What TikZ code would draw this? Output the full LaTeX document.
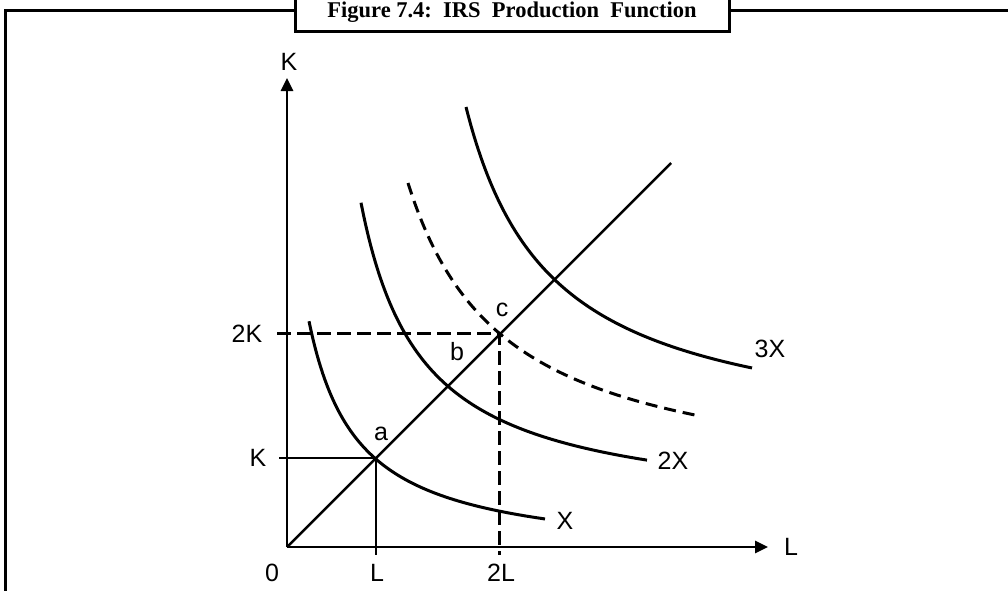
\documentclass[tikz,border=0pt]{standalone}
\usepackage{fontspec}
\setmainfont{Liberation Sans}
\newfontfamily\titlefont{Liberation Serif}
\usetikzlibrary{arrows.meta}
\begin{document}
\begin{tikzpicture}[x=1pt,y=-1pt,
  axis/.style={line width=2.8pt},
  curve/.style={line width=3pt},
  guide/.style={line width=2.5pt},
  dguide/.style={line width=3pt, dash pattern=on 14pt off 6pt},
  dcurve/.style={line width=3pt, dash pattern=on 12pt off 7pt},
  lab/.style={font=\fontsize{25}{25}\selectfont, inner sep=0pt},
  arr/.style={-{Triangle[length=13pt,width=12pt]}}]
\useasboundingbox (0,0) rectangle (1008,590);
\fill[white] (0,0) rectangle (1008,590);
% frame and title
\draw[line width=3pt] (5,592) -- (5,10) -- (1010,10);
\draw[line width=3pt, fill=white] (295,-5) rectangle (729,31);
\node[font=\titlefont\bfseries\fontsize{22.5}{22.5}\selectfont, anchor=base, inner sep=0pt] (title) at (512,17)
  {Figure 7.4:\hspace{0.5em}IRS\hspace{0.5em}Production\hspace{0.5em}Function};
% key points
\coordinate (O) at (287,547);
\coordinate (Ytip) at (287,78);
\coordinate (Xtip) at (768,547);
\coordinate (A) at (376,458);
\coordinate (C) at (499,333);
\coordinate (Dtop) at (671,163);
\coordinate (Ktick) at (279,458);
\coordinate (KKtick) at (277,333);
\coordinate (Lbot) at (376,555);
\coordinate (LLbot) at (499,555);
% axes
\draw[axis,arr] (O) -- (Ytip);
\draw[axis,arr] (O) -- (Xtip);
\draw[guide] (O) -- (Dtop);
\draw[guide] (Ktick) -- (A) -- (Lbot);
\draw[dguide] (KKtick) -- (C) -- (LLbot);
% isoquants
\draw[curve] plot[domain=309:545, samples=120] (\x, {560 - 100*(117/(\x-260))});
\draw[curve] plot[domain=361:647, samples=120] (\x, {515 - 100*(190.5/(\x-300))});
\draw[dcurve] plot[domain=408:695, samples=120] (\x, {493.9 - 100*(303.44/(\x-310.4))});
\draw[curve] plot[domain=466:752, samples=120] (\x, {445.8 - 100*(289/(\x-380.7))});
% labels
\node[lab] (lK) at (289,62) {K};
\node[lab] (lL) at (791,547) {L};
\node[lab] (l0) at (272,573) {0};
\node[lab] (lL1) at (377,573) {L};
\node[lab] (lL2) at (501,573) {2L};
\node[lab] (lK1) at (258,458) {K};
\node[lab] (lK2) at (247,334) {2K};
\node[lab] (la) at (381,434) {a};
\node[lab] (lb) at (457,352) {b};
\node[lab] (lc) at (502,310) {c};
\node[lab] (lX) at (565,521) {X};
\node[lab] (l2X) at (673,461) {2X};
\node[lab] (l3X) at (770,349) {3X};
\end{tikzpicture}
\end{document}
